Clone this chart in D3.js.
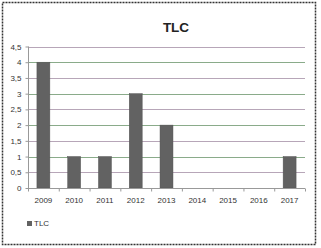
<!DOCTYPE html>
<html><head><meta charset="utf-8">
<script src="https://cdn.jsdelivr.net/npm/d3@7"></script>
<style>body{margin:0;background:#fff}svg{display:block}</style>
</head><body>
<script>
const categories = ["2009","2010","2011","2012","2013","2014","2015","2016","2017"];
const values = [4,1,1,3,2,0,0,0,1];
const yTicks = [0,0.5,1,1.5,2,2.5,3,3.5,4,4.5];
const yTickLabels = ["0","0,5","1","1,5","2","2,5","3","3,5","4","4,5"];
const seriesName = "TLC";

const W=321,H=248;
const svg=d3.select("body").append("svg").attr("width",W).attr("height",H);
svg.append("rect").attr("x",2.5).attr("y",2.5).attr("width",313).attr("height",242)
  .attr("fill","#fff").attr("stroke","#333").attr("stroke-width",1.5).attr("stroke-dasharray","2,1");

const x=d3.scaleBand().domain(categories).range([28,305]).paddingInner(0.58).paddingOuter(0.29);
const xb=d3.scaleBand().domain(categories).range([28,305]);
const y=d3.scaleLinear().domain([0,4.5]).range([188,46.5]);

svg.append("text").attr("x",176).attr("y",32).attr("text-anchor","middle")
  .attr("font-family","Liberation Sans Narrow, Liberation Sans, Arial, sans-serif").attr("font-weight","bold")
  .attr("font-size",13.5).attr("fill","#222").text(seriesName);

// gridlines
svg.append("g").selectAll("line").data(yTicks.filter(d=>d>0)).join("line")
  .attr("x1",28).attr("x2",305).attr("y1",d=>Math.round(y(d))+0.5).attr("y2",d=>Math.round(y(d))+0.5)
  .attr("stroke",d=>Number.isInteger(d)?"#8aab8a":"#b7a6b8").attr("stroke-width",1);

// bars
svg.append("g").selectAll("rect").data(categories).join("rect")
  .attr("x",d=>x(d)).attr("width",x.bandwidth())
  .attr("y",(d,i)=>y(values[i])).attr("height",(d,i)=>y(0)-y(values[i]))
  .attr("fill","#626262").attr("stroke","#555").attr("stroke-width",0.5);

// y axis
const ya=svg.append("g").attr("transform","translate(28.5,0)")
  .call(d3.axisLeft(y).tickValues(yTicks).tickFormat((d,i)=>yTickLabels[i]).tickSize(3).tickPadding(4));
ya.select(".domain").attr("stroke","#999").attr("d","M0,46.5V188");
ya.selectAll(".tick line").attr("stroke","#999");
ya.selectAll("text").attr("font-family","Liberation Sans, Arial, sans-serif").attr("font-size",8).attr("fill","#333");

// x axis
const xa=svg.append("g").attr("transform","translate(0,188.5)");
xa.append("line").attr("x1",28).attr("x2",305).attr("stroke","#999");
xa.selectAll("line.t").data(categories.concat(["end"])).join("line").attr("class","t")
  .attr("x1",(d,i)=>i<categories.length?xb(d)+0.5:305.5).attr("x2",(d,i)=>i<categories.length?xb(d)+0.5:305.5)
  .attr("y1",0).attr("y2",3).attr("stroke","#999");
xa.selectAll("text").data(categories).join("text")
  .attr("x",d=>xb(d)+xb.bandwidth()/2).attr("y",14).attr("text-anchor","middle")
  .attr("font-family","Liberation Sans, Arial, sans-serif").attr("font-size",8).attr("fill","#333").text(d=>d);

// legend
svg.append("rect").attr("x",27).attr("y",221).attr("width",5).attr("height",5).attr("fill","#626262");
svg.append("text").attr("x",34).attr("y",226).attr("font-family","Liberation Sans, Arial, sans-serif")
  .attr("font-size",8).attr("fill","#333").text(seriesName);
</script>
</body></html>
